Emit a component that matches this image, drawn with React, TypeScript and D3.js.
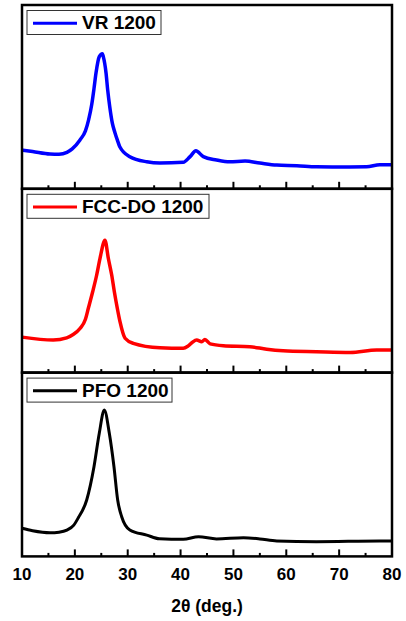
import React from "react";
import * as d3 from "d3";

// 2θ axis ticks
const majorTicks = [10, 20, 30, 40, 50, 60, 70, 80];
const minorTicks = [15, 25, 35, 45, 55, 65, 75];

// intensities (a.u., 0-100 per panel)
const vr2theta = [10, 12, 15.3, 17, 18.5, 19.5, 20.97, 22.0, 22.6, 23.2, 23.62, 24.0, 24.62, 25.2, 25.38, 25.9, 26.21, 26.6, 27.1, 27.6, 28.03, 28.5, 30.4, 33.6, 36.1, 40.5, 41.8, 42.9, 44.3, 46.8, 49.3, 52.2, 55, 58.2, 62, 65.7, 70.2, 75.2, 77.7, 80];
const vrI = [21.1, 20.3, 18.9, 18.8, 19.8, 21.7, 26.6, 31.5, 37.5, 46.0, 54.5, 63.0, 71.9, 73.5, 71.9, 63.0, 53.8, 44.7, 35.6, 30.4, 26.6, 22.9, 17.5, 14.7, 14.0, 14.4, 17.5, 20.7, 17.5, 15.7, 14.7, 15.1, 14.0, 12.9, 12.6, 12.0, 11.9, 12.0, 13.1, 13.1];

const fcc2theta = [10, 15.9, 18.45, 19.6, 20.97, 22.0, 22.55, 23.37, 24.13, 24.76, 25.7, 26.33, 26.97, 27.47, 28.03, 28.54, 29.5, 31.05, 36.1, 40.5, 41.4, 42.2, 43.05, 44.0, 44.6, 45.6, 48.1, 53.1, 56.3, 59.4, 65.7, 72.1, 77.1, 80];
const fccI = [19.3, 17.7, 18.9, 20.6, 24.0, 29.0, 35.0, 44.0, 53.1, 62.2, 72.0, 62.2, 53.1, 44.0, 35.0, 27.7, 18.7, 15.9, 13.5, 13.2, 14.4, 16.4, 17.7, 16.8, 18.0, 15.6, 14.6, 14.1, 12.7, 11.9, 11.4, 11.0, 12.3, 12.3];

const pfo2theta = [10, 12, 15.3, 17, 18.5, 19.8, 20.65, 22.24, 23.62, 24.62, 25.57, 26.52, 27.4, 28.1, 28.86, 30.4, 33.6, 36, 40.5, 43.4, 46.8, 51.9, 55, 58.2, 65.7, 77.7, 80];
const pfoI = [15.3, 14.0, 12.9, 13.2, 14.3, 17.0, 21.0, 30.7, 48.8, 67.0, 79.7, 67.0, 48.8, 30.7, 21.6, 14.4, 11.6, 9.6, 9.3, 10.7, 9.5, 10.2, 9.5, 8.4, 8.0, 8.4, 8.4];

const seriesNames = ["VR 1200", "FCC-DO 1200", "PFO 1200"];
const seriesColors = ["#0000ff", "#ff0000", "#000000"];

const W = 406, H = 621;
const left = 22, right = 392, top = 5, panelH = 183.8;

export default function App() {
  const x = d3.scaleLinear().domain([10, 80]).range([left, right]);
  const series = [
    { name: seriesNames[0], color: seriesColors[0], xs: vr2theta, ys: vrI, boxW: 134, sw: 3.5 },
    { name: seriesNames[1], color: seriesColors[1], xs: fcc2theta, ys: fccI, boxW: 182, sw: 3.5 },
    { name: seriesNames[2], color: seriesColors[2], xs: pfo2theta, ys: pfoI, boxW: 145, sw: 3 },
  ];
  const font = "'Liberation Sans', Arial, sans-serif";

  return (
    <svg width={W} height={H} style={{ position: "absolute", left: 0, top: 0 }} fontFamily={font}>
      <rect width={W} height={H} fill="#fff" />
      {series.map((s, i) => {
        const y0 = top + i * panelH;
        const y = d3.scaleLinear().domain([0, 100]).range([y0 + panelH, y0]);
        const line = d3
          .line<number>()
          .x((d, k) => x(s.xs[k]))
          .y((d) => y(d))
          .curve(d3.curveMonotoneX);
        const bottom = y0 + panelH;
        return (
          <g key={s.name}>
            <path d={line(s.ys) || ""} fill="none" stroke={s.color} strokeWidth={s.sw} strokeLinejoin="round" />
            {majorTicks.map((t) => (
              <line key={"M" + t} x1={x(t)} x2={x(t)} y1={bottom} y2={bottom - 7} stroke="#000" strokeWidth={2} />
            ))}
            {minorTicks.map((t) => (
              <line key={"m" + t} x1={x(t)} x2={x(t)} y1={bottom} y2={bottom - 3.5} stroke="#000" strokeWidth={2} />
            ))}
            <rect x={left} y={y0} width={right - left} height={panelH} fill="none" stroke="#000" strokeWidth={2.5} />
            <g transform={`translate(${left + 5},${y0 + 5.5})`}>
              <rect width={s.boxW} height={24} fill="#fff" stroke="#333" strokeWidth={1} />
              <line x1={6} x2={50} y1={12.7} y2={12.7} stroke={s.color} strokeWidth={3} />
              <text x={55} y={18.5} fontSize={19} fontWeight="bold" fill="#000">{s.name}</text>
            </g>
          </g>
        );
      })}
      {majorTicks.map((t) => (
        <text key={"l" + t} x={x(t)} y={580} textAnchor="middle" fontSize={17} fontWeight="bold">{t}</text>
      ))}
      <text x={(left + right) / 2} y={612} textAnchor="middle" fontSize={17.5} fontWeight="bold">2θ (deg.)</text>
    </svg>
  );
}
